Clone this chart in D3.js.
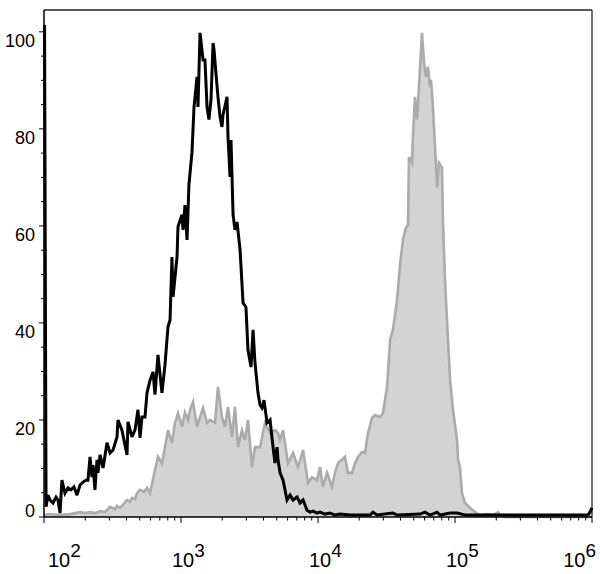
<!DOCTYPE html>
<html>
<head>
<meta charset="utf-8">
<script src="https://d3js.org/d3.v7.min.js"></script>
<style>
  html, body { margin: 0; padding: 0; background: #fff; }
  svg { display: block; }
  text { font-family: "Liberation Sans", Arial, sans-serif; fill: #000; }
</style>
</head>
<body>
<div id="chart"></div>
<script>
// ---- data (log10 of fluorescence intensity, % of max count) ----
const controlLog = [2.004,2.015,2.029,2.044,2.066,2.088,2.102,2.117,2.131,2.153,2.175,2.197,2.219,2.241,2.263,2.285,2.307,2.321,2.336,2.350,2.358,2.372,2.387,2.394,2.409,2.431,2.460,2.482,2.504,2.533,2.540,2.569,2.606,2.613,2.642,2.664,2.686,2.701,2.715,2.737,2.752,2.774,2.796,2.810,2.832,2.861,2.883,2.905,2.920,2.934,2.942,2.971,2.978,3.007,3.015,3.029,3.044,3.058,3.080,3.095,3.117,3.124,3.139,3.161,3.175,3.190,3.204,3.219,3.234,3.241,3.255,3.270,3.285,3.299,3.307,3.336,3.343,3.358,3.365,3.380,3.394,3.409,3.431,3.453,3.474,3.489,3.511,3.526,3.540,3.562,3.577,3.591,3.606,3.628,3.650,3.672,3.686,3.701,3.708,3.723,3.745,3.774,3.796,3.818,3.847,3.869,3.891,3.920,3.942,3.964,3.993,4.015,4.051,4.088,4.124,4.161,4.234,4.380,4.401,4.431,4.547,4.577,4.745,4.781,4.818,4.869,4.891,4.964,5.015,5.073,5.328,5.971,5.985,6.000];
const controlCount = [101.4,2.1,4.5,3.5,2.9,4.1,3.5,0.8,7.6,4.9,6.0,5.6,6.2,4.5,6.6,7.2,7.6,7.6,12.4,8.2,10.7,5.6,11.8,9.1,12.8,10.1,15.3,13.2,13.8,16.5,20.0,17.9,12.8,19.6,16.5,17.9,22.1,16.3,20.6,20.6,25.6,28.2,29.9,25.2,33.4,25.6,31.3,39.2,40.6,53.6,45.4,53.6,59.8,62.3,59.2,64.3,57.1,68.5,75.1,84.5,90.7,84.5,99.8,94.2,94.2,84.5,81.9,86.0,97.7,96.3,91.5,86.6,82.5,80.4,82.9,86.6,78.4,70.1,77.7,62.3,59.2,60.8,55.1,44.1,43.3,34.4,30.9,38.6,31.8,25.6,23.1,22.5,24.1,19.4,20.0,14.4,11.1,14.4,11.8,9.1,7.6,3.5,4.5,3.5,4.1,2.9,3.5,1.4,1.0,1.2,0.8,1.0,0.6,0.8,0.4,0.6,0.4,0.4,1.0,0.4,0.8,0.4,0.6,1.0,0.4,1.0,0.4,0.8,0.8,0.4,0.4,0.4,1.0,1.9];

const stainedLog = [2.000,2.044,2.117,2.190,2.263,2.299,2.336,2.372,2.409,2.445,2.482,2.518,2.533,2.555,2.577,2.606,2.628,2.642,2.664,2.679,2.701,2.730,2.752,2.774,2.810,2.832,2.861,2.883,2.905,2.934,2.956,2.978,3.007,3.029,3.051,3.066,3.088,3.117,3.139,3.161,3.190,3.212,3.248,3.270,3.299,3.321,3.343,3.372,3.394,3.416,3.445,3.467,3.489,3.518,3.540,3.577,3.613,3.650,3.686,3.708,3.723,3.745,3.781,3.818,3.854,3.891,3.927,3.956,3.993,4.015,4.036,4.066,4.102,4.124,4.146,4.175,4.197,4.219,4.248,4.270,4.292,4.321,4.343,4.365,4.394,4.416,4.453,4.474,4.504,4.526,4.547,4.577,4.599,4.620,4.642,4.657,4.664,4.686,4.693,4.708,4.723,4.737,4.759,4.774,4.788,4.803,4.818,4.825,4.839,4.854,4.869,4.883,4.905,4.912,4.927,4.949,4.964,4.985,5.015,5.022,5.036,5.051,5.073,5.109,5.146,5.182,5.234,5.277,5.314,5.328,5.365,6.000];
const stainedCount = [0.4,0.6,0.4,0.6,1.0,0.8,1.0,0.8,1.2,1.0,2.1,1.6,2.3,1.9,2.5,3.5,3.1,3.9,3.7,4.9,5.6,5.2,6.0,4.9,9.7,12.4,11.1,14.4,17.9,15.3,19.4,21.4,18.6,21.6,20.0,22.1,23.7,18.6,20.6,22.5,19.4,20.0,19.4,26.8,20.6,18.6,22.7,16.5,22.7,14.4,17.9,15.9,20.0,10.3,14.4,14.4,19.4,17.3,17.9,17.3,15.9,17.9,11.1,13.2,10.3,13.8,7.0,8.2,7.6,10.3,6.2,9.1,6.2,9.1,11.1,11.8,12.4,9.1,9.1,11.1,12.4,13.4,13.2,17.3,20.4,21.0,20.6,21.4,26.8,36.5,38.6,44.7,52.0,57.1,59.6,60.2,74.2,73.0,78.4,86.6,81.9,88.7,99.8,93.6,90.7,92.8,88.7,90.1,84.5,76.3,68.0,73.0,72.0,61.2,48.9,36.5,28.2,22.1,15.9,11.8,10.3,4.9,2.9,1.9,1.0,0.4,0.6,0.4,1.0,0.4,0,0];

const yTickValues = [0, 20, 40, 60, 80, 100];
const xDecades = [2, 3, 4, 5, 6];

// ---- layout ----
const W = 600, H = 574;
const L = 44, R = 592, T = 10, B = 517;

const svg = d3.select("#chart").append("svg").attr("width", W).attr("height", H);

const x = d3.scaleLog().domain([1e2, 1e6]).range([L, R]);
const y = d3.scaleLinear().domain([0, 104.5]).range([B, T]);

const stained = stainedLog.map((v, i) => ({ v: Math.pow(10, v), c: stainedCount[i] }));
const control = controlLog.map((v, i) => ({ v: Math.pow(10, v), c: controlCount[i] }));

// filled stained histogram
svg.append("path")
  .datum(stained)
  .attr("d", d3.area().x(d => x(d.v)).y0(y(0)).y1(d => y(d.c)))
  .attr("fill", "#d3d3d3");
svg.append("path")
  .datum(stained)
  .attr("d", d3.line().x(d => x(d.v)).y(d => y(d.c)))
  .attr("fill", "none").attr("stroke", "#ababab").attr("stroke-width", 2.6)
  .attr("stroke-linejoin", "miter");

// frame top/right
svg.append("line").attr("x1", L).attr("x2", R).attr("y1", T).attr("y2", T)
  .attr("stroke", "#222").attr("stroke-width", 1.5);
svg.append("line").attr("x1", R).attr("x2", R).attr("y1", T).attr("y2", B)
  .attr("stroke", "#444").attr("stroke-width", 1.5);

// y axis
const yMinor = d3.range(0, 101, 5);
const yAxis = svg.append("g").attr("transform", `translate(${L},0)`);
yAxis.append("line").attr("x1", 0).attr("x2", 0).attr("y1", T).attr("y2", B)
  .attr("stroke", "#000").attr("stroke-width", 1.5);
yAxis.selectAll("line.tk").data(yMinor).join("line").attr("class", "tk")
  .attr("x1", d => yTickValues.includes(d) ? -5 : -3).attr("x2", 0)
  .attr("y1", d => y(d)).attr("y2", d => y(d))
  .attr("stroke", "#000").attr("stroke-width", 1);
yAxis.selectAll("text").data(yTickValues).join("text")
  .attr("x", -9)
  .attr("y", d => d === 0 ? y(d) : y(d) + 15)
  .attr("text-anchor", "end")
  .attr("font-size", 18)
  .text(d => d);

// x axis
const xMinor = [];
for (let e = 2; e < 6; e++) for (let m = 1; m < 10; m++) xMinor.push(m * Math.pow(10, e));
xMinor.push(1e6);
const xAxis = svg.append("g").attr("transform", `translate(0,${B})`);
xAxis.append("line").attr("x1", L).attr("x2", R).attr("y1", 0).attr("y2", 0)
  .attr("stroke", "#000").attr("stroke-width", 1.5);
xAxis.selectAll("line.tk").data(xMinor).join("line").attr("class", "tk")
  .attr("x1", d => x(d)).attr("x2", d => x(d))
  .attr("y1", 0).attr("y2", d => Number.isInteger(Math.log10(d)) ? 6 : 3.5)
  .attr("stroke", "#000").attr("stroke-width", 1);

const lab = xAxis.selectAll("text").data(xDecades).join("text")
  .attr("font-size", 20)
  .attr("y", 50);
lab.append("tspan").text("10");
lab.append("tspan").attr("dy", -10).attr("font-size", 19).text(d => d);
lab.attr("x", function(d, i) {
  const px = x(Math.pow(10, d));
  const w = this.getComputedTextLength();
  if (i === 0) return 48;
  if (i === xDecades.length - 1) return 596 - w;
  return px - 9;
});

// control histogram (black line)
svg.append("path")
  .datum(control)
  .attr("d", d3.line().x(d => x(d.v)).y(d => y(d.c)))
  .attr("fill", "none").attr("stroke", "#000").attr("stroke-width", 3)
  .attr("stroke-linejoin", "miter").attr("stroke-miterlimit", 3);
</script>
</body>
</html>
